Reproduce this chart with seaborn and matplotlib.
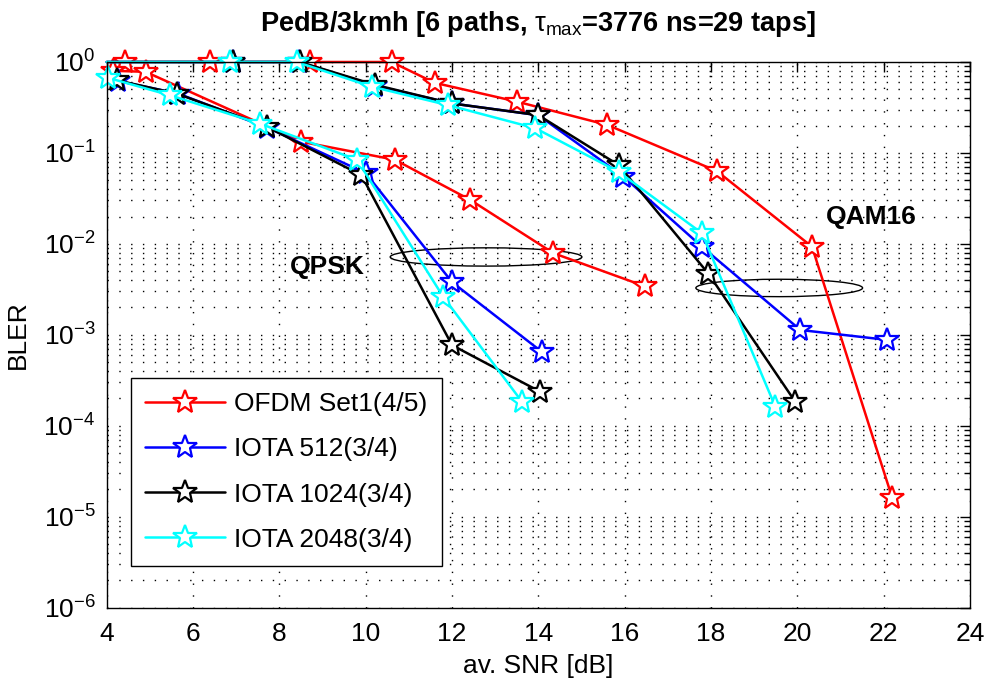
import numpy as np
import pandas as pd
import seaborn as sns
import matplotlib.pyplot as plt
from matplotlib.colors import same_color
from matplotlib.patches import Ellipse
from matplotlib.ticker import LogLocator, NullFormatter

sns.set_style("white")
plt.rcParams['font.family'] = ['Liberation Sans', 'DejaVu Sans']
plt.rcParams['mathtext.fontset'] = 'custom'
plt.rcParams['mathtext.rm'] = 'Liberation Sans'
plt.rcParams['mathtext.it'] = 'Liberation Sans'
plt.rcParams['mathtext.bf'] = 'Liberation Sans:bold'
for key in ['text.color', 'axes.labelcolor', 'xtick.color', 'ytick.color', 'axes.edgecolor']:
    plt.rcParams[key] = 'black'

schemes = ['OFDM Set1(4/5)', 'IOTA 512(3/4)', 'IOTA 1024(3/4)', 'IOTA 2048(3/4)']
colors = ['#ff0000', '#0000ff', '#000000', '#00ffff']

# QPSK curves
ofdm_qpsk_snr = [4.15, 4.9, 8.5, 10.68, 12.42, 14.35, 16.48]
ofdm_qpsk_bler = [0.8, 0.78, 0.133, 0.084, 0.0305, 0.0079, 0.0034]
iota512_qpsk_snr = [4.25, 5.65, 7.72, 10.0, 12.0, 14.08]
iota512_qpsk_bler = [0.62, 0.45, 0.19, 0.06, 0.0038, 0.00065]
iota1024_qpsk_snr = [4.23, 5.62, 7.71, 9.9, 12.0, 14.04]
iota1024_qpsk_bler = [0.63, 0.45, 0.194, 0.057, 0.00077, 0.000237]
iota2048_qpsk_snr = [4.03, 5.47, 7.55, 9.8, 11.8, 13.62]
iota2048_qpsk_bler = [0.67, 0.43, 0.21, 0.084, 0.0026, 0.000184]

# QAM16 curves
ofdm_qam_snr = [4.42, 6.4, 8.7, 10.6, 11.6, 13.5, 15.6, 18.14, 20.34, 22.2]
ofdm_qam_bler = [1.0, 1.0, 1.0, 1.0, 0.59, 0.367, 0.203, 0.063, 0.0093, 1.6e-5]
iota512_qam_snr = [4.0, 6.93, 8.45, 10.22, 12.0, 14.0, 15.97, 17.79, 20.07, 22.08]
iota512_qam_bler = [1.0, 1.0, 1.0, 0.55, 0.35, 0.26, 0.055, 0.0093, 0.00113, 0.00088]
iota1024_qam_snr = [4.0, 6.93, 8.47, 10.22, 12.0, 14.0, 15.86, 17.94, 19.95]
iota1024_qam_bler = [1.0, 1.0, 1.0, 0.56, 0.35, 0.26, 0.0736, 0.0047, 0.000184]
iota2048_qam_snr = [4.0, 6.86, 8.4, 10.14, 11.9, 13.93, 15.86, 17.79, 19.49]
iota2048_qam_bler = [1.0, 1.0, 1.0, 0.535, 0.336, 0.187, 0.062, 0.0131, 0.000162]

curves = [
    (schemes[0], 'QPSK', ofdm_qpsk_snr, ofdm_qpsk_bler),
    (schemes[0], 'QAM16', ofdm_qam_snr, ofdm_qam_bler),
    (schemes[1], 'QPSK', iota512_qpsk_snr, iota512_qpsk_bler),
    (schemes[1], 'QAM16', iota512_qam_snr, iota512_qam_bler),
    (schemes[2], 'QPSK', iota1024_qpsk_snr, iota1024_qpsk_bler),
    (schemes[2], 'QAM16', iota1024_qam_snr, iota1024_qam_bler),
    (schemes[3], 'QPSK', iota2048_qpsk_snr, iota2048_qpsk_bler),
    (schemes[3], 'QAM16', iota2048_qam_snr, iota2048_qam_bler),
]
df = pd.concat([pd.DataFrame({'scheme': s, 'mod': m, 'snr': x, 'bler': y})
                for s, m, x, y in curves], ignore_index=True)

fs = 19

fig = plt.figure(figsize=(9.89, 6.82), dpi=100)
ax = fig.add_axes([0.1079, 0.109, 0.8729, 0.8001])

sns.lineplot(data=df, x='snr', y='bler', hue='scheme', units='mod', estimator=None,
             sort=False, hue_order=schemes, palette=colors, marker='*',
             markersize=18, linewidth=1.8, legend=False, ax=ax)

for line in ax.lines:
    line.set_markeredgecolor(line.get_color())
    line.set_markerfacecolor('white')
    line.set_markeredgewidth(1.6)
    line.set_clip_on(False)
    if line.get_xdata()[0] == 4.0 and line.get_ydata()[0] == 1.0:
        line.set_markevery(slice(1, None))

ax.set_yscale('log')
ax.set_xlim(4, 24)
ax.set_ylim(1e-6, 1)
ax.set_xticks(np.arange(4, 25, 2))
ax.yaxis.set_minor_locator(LogLocator(base=10, subs=np.arange(2, 10), numticks=20))
ax.yaxis.set_minor_formatter(NullFormatter())

dots = (0, (1, 7.5))
ax.grid(True, which='major', axis='both', color='black', linestyle=dots, linewidth=1.0)
ax.grid(True, which='minor', axis='y', color='black', linestyle=dots, linewidth=1.0)
ax.set_axisbelow(True)

ax.tick_params(which='both', direction='in', top=True, right=True, labelsize=fs,
               color='black', width=1.0)
ax.tick_params(which='major', length=7)
ax.tick_params(which='minor', length=4)
ax.tick_params(axis='x', which='major', pad=10)
ax.tick_params(axis='y', which='major', pad=8)
for sp in ax.spines.values():
    sp.set_color('black')
    sp.set_linewidth(1.0)

ax.set_xlabel('av. SNR [dB]', fontsize=fs, labelpad=6)
ax.set_ylabel('BLER', fontsize=fs, labelpad=10)
ax.set_title(r'PedB/3kmh [6 paths, $\tau_{\mathrm{max}}$=3776 ns=29 taps]',
             fontsize=19.5, fontweight='bold', pad=22)

ax.add_patch(Ellipse((0.4394, 0.6427), 0.222, 0.0335, transform=ax.transAxes,
                     fill=False, edgecolor='black', linewidth=1.0))
ax.add_patch(Ellipse((0.779, 0.5859), 0.1931, 0.0319, transform=ax.transAxes,
                     fill=False, edgecolor='black', linewidth=1.0))
ax.text(0.255, 0.624, 'QPSK', transform=ax.transAxes, ha='center', va='center',
        fontsize=fs, fontweight='bold')
ax.text(0.886, 0.716, 'QAM16', transform=ax.transAxes, ha='center', va='center',
        fontsize=fs, fontweight='bold')

handles = [next(l for l in ax.lines if same_color(l.get_color(), c)) for c in colors]
leg = ax.legend(handles, schemes, loc='lower left', bbox_to_anchor=(0.028, 0.076),
                borderaxespad=0, fontsize=fs, handlelength=3.0, handletextpad=0.35,
                frameon=True, fancybox=False, edgecolor='black', framealpha=1,
                labelspacing=0.8, borderpad=0.55)
leg.get_frame().set_linewidth(1.0)

fig.savefig('out.png', dpi=100)
